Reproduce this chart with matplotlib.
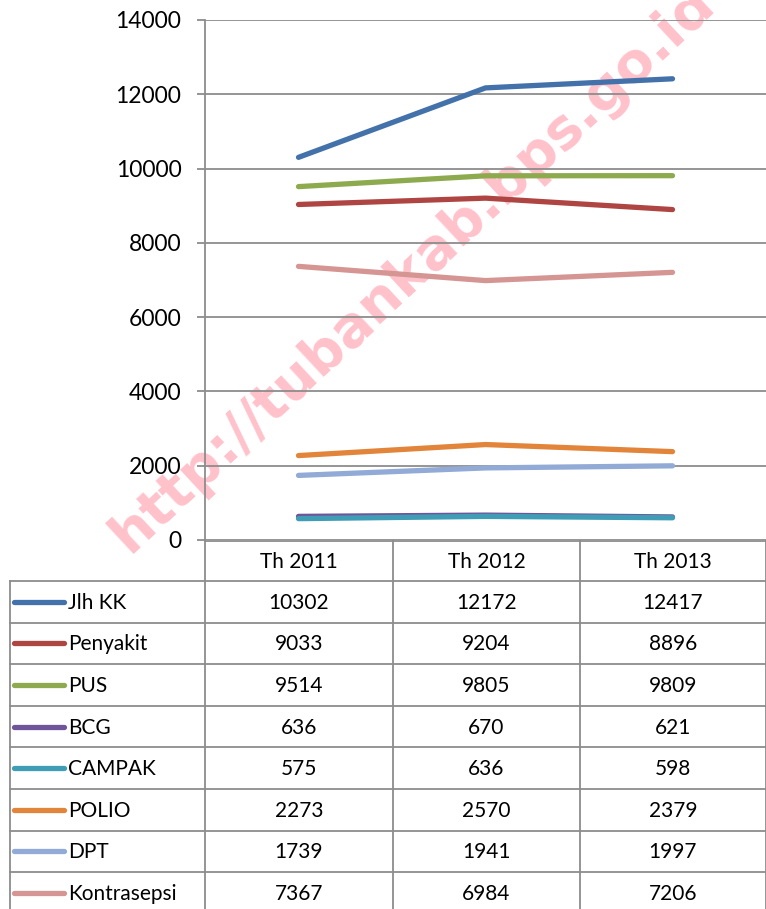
import matplotlib.pyplot as plt
import numpy as np

# data
years = ["Th 2011", "Th 2012", "Th 2013"]
series_names = ["Jlh KK", "Penyakit", "PUS", "BCG", "CAMPAK", "POLIO", "DPT", "Kontrasepsi"]
jlh_kk = [10302, 12172, 12417]
penyakit = [9033, 9204, 8896]
pus = [9514, 9805, 9809]
bcg = [636, 670, 621]
campak = [575, 636, 598]
polio = [2273, 2570, 2379]
dpt = [1739, 1941, 1997]
kontrasepsi = [7367, 6984, 7206]
y_ticks = [0, 2000, 4000, 6000, 8000, 10000, 12000, 14000]

values = [jlh_kk, penyakit, pus, bcg, campak, polio, dpt, kontrasepsi]
colors = ["#4371AA", "#AE4542", "#8DAB4E", "#70559A", "#3F9DB6",
          "#E2853A", "#91AAD6", "#D49593"]

plt.rcParams["font.family"] = ["Lato", "DejaVu Sans"]
W, H = 766, 909
fig = plt.figure(figsize=(W / 100, H / 100), dpi=100)

# pixel layout
left, right, top, bottom = 205, 766, 20, 540
grid_col = "#8C8C8C"

# table axes (pixel coords)
axt = fig.add_axes([0, 0, 1, (H - bottom) / H])
axt.set_xlim(0, W)
axt.set_ylim(H - bottom, 0)
axt.axis("off")

col_edges = [205, 393, 580, 766]
header_h = 41
row_h = 41.6
n_rows = len(series_names)
row_tops = [header_h + i * row_h for i in range(n_rows + 1)]
lc = "#8C8C8C"
lw = 1.3
# header
axt.plot([col_edges[0], col_edges[-1]], [0.5, 0.5], color=lc, lw=lw)
for xe in col_edges:
    axt.plot([xe, xe], [0, row_tops[-1]], color=lc, lw=lw)
axt.plot([10, 10], [header_h, row_tops[-1]], color=lc, lw=lw)
for yt in row_tops:
    axt.plot([10, col_edges[-1]], [yt, yt], color=lc, lw=lw)
for j, yr in enumerate(years):
    axt.text((col_edges[j] + col_edges[j + 1]) / 2, header_h / 2 + 1, yr,
             ha="center", va="center", fontsize=15)
for i, (name, vals, c) in enumerate(zip(series_names, values, colors)):
    yc = row_tops[i] + row_h / 2
    axt.plot([14, 64], [yc, yc], color=c, lw=3.8, solid_capstyle="round")
    axt.text(68, yc + 1, name, ha="left", va="center", fontsize=15)
    for j, v in enumerate(vals):
        axt.text((col_edges[j] + col_edges[j + 1]) / 2, yc + 1, str(v),
                 ha="center", va="center", fontsize=15)

# main plot
ax = fig.add_axes([left / W, (H - bottom) / H, (right - left) / W, (bottom - top) / H])
ax.patch.set_visible(False)
x = np.arange(len(years)) + 0.5
for vals, c in zip(values, colors):
    ax.plot(x, vals, color=c, lw=3.8, solid_capstyle="round", zorder=3)

ax.set_xlim(0, 3)
ax.set_ylim(0, 14000)
ax.set_yticks(y_ticks)
ax.set_yticklabels([str(t) for t in y_ticks], fontsize=16.5)
ax.set_xticks([])
ax.yaxis.grid(True, color=grid_col, lw=1.3, zorder=1)
ax.set_axisbelow(True)
for s in ["top", "right", "bottom"]:
    ax.spines[s].set_visible(False)
ax.spines["left"].set_color(grid_col)
ax.spines["left"].set_linewidth(1.3)
ax.tick_params(axis="y", length=6, color=grid_col, width=1.3, pad=11)

# watermark
ax.text(0.37, 0.52, "http://tubankab.bps.go.id", transform=ax.transAxes,
        rotation=43, ha="center", va="center", fontsize=40, fontweight="bold",
        color="#FFC2CB", zorder=0.5, clip_on=False, family="DejaVu Sans")

plt.savefig("out.png", dpi=100)
